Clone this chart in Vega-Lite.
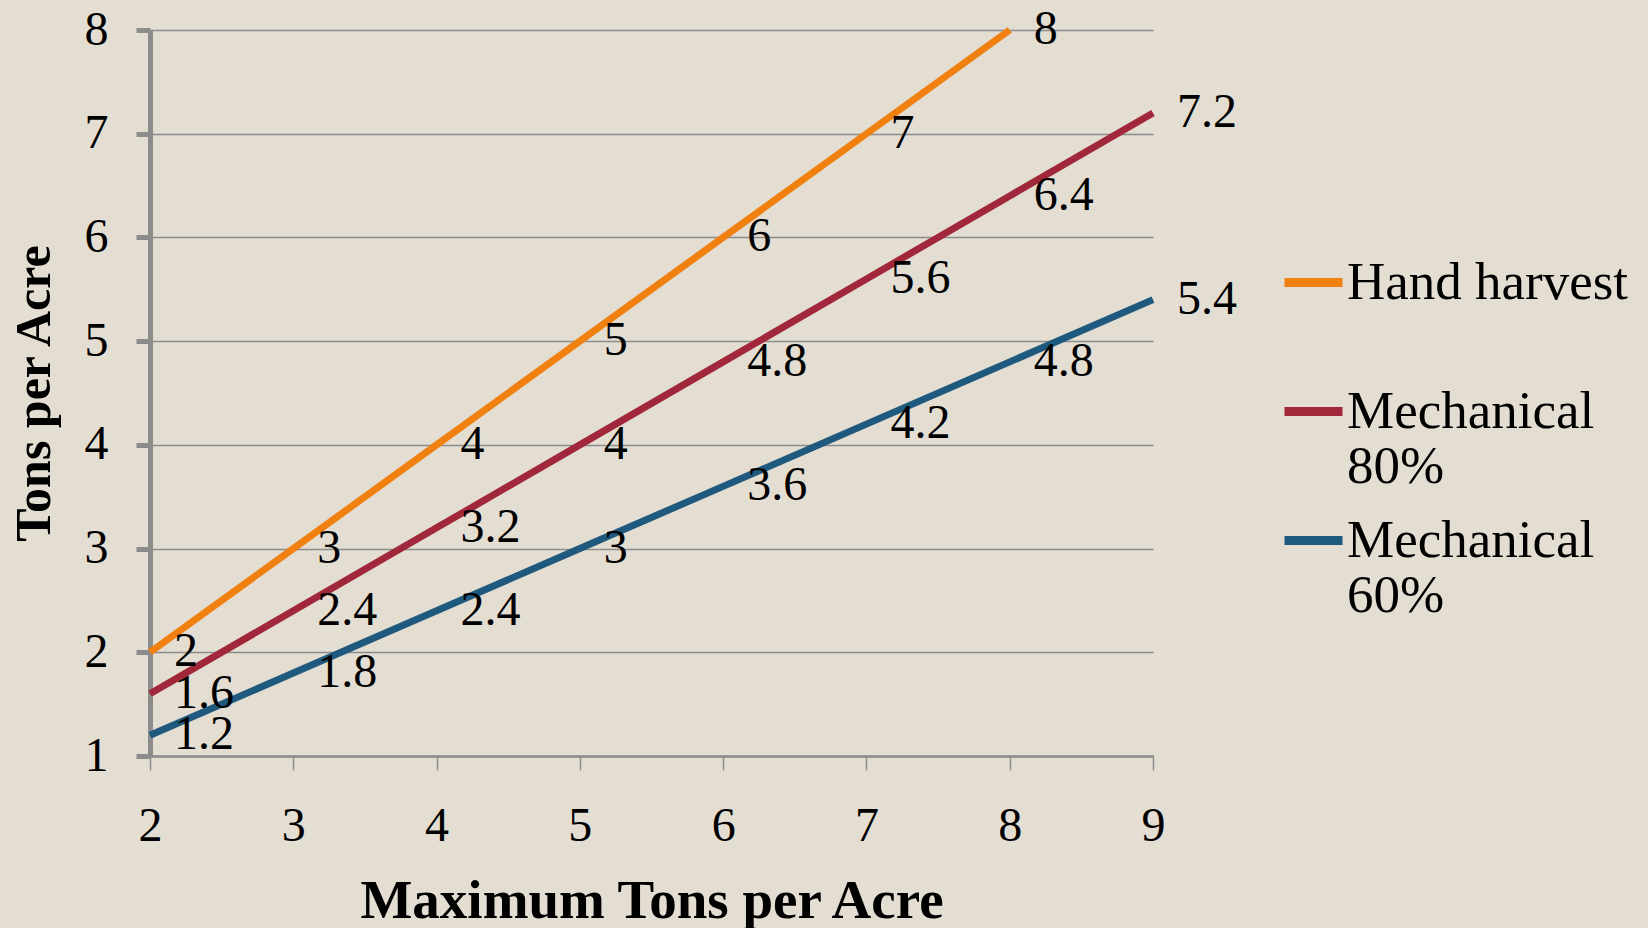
{
  "$schema": "https://vega.github.io/schema/vega-lite/v6.json",
  "autosize": {"type": "none"},
  "width": 1003,
  "height": 726,
  "padding": {"left": 150, "top": 30, "right": 495, "bottom": 172},
  "background": "#E3DDD2",
  "config": {
    "font": "Liberation Serif",
    "view": {"stroke": null},
    "axis": {"labelFont": "Liberation Serif", "titleFont": "Liberation Serif", "labelColor": "#000000", "titleColor": "#000000"}
  },
  "data": {
    "values": [
      {"series": "Hand harvest", "x": 2, "y": 2},
      {"series": "Hand harvest", "x": 3, "y": 3},
      {"series": "Hand harvest", "x": 4, "y": 4},
      {"series": "Hand harvest", "x": 5, "y": 5},
      {"series": "Hand harvest", "x": 6, "y": 6},
      {"series": "Hand harvest", "x": 7, "y": 7},
      {"series": "Hand harvest", "x": 8, "y": 8},
      {"series": "Mechanical 80%", "x": 2, "y": 1.6},
      {"series": "Mechanical 80%", "x": 3, "y": 2.4},
      {"series": "Mechanical 80%", "x": 4, "y": 3.2},
      {"series": "Mechanical 80%", "x": 5, "y": 4},
      {"series": "Mechanical 80%", "x": 6, "y": 4.8},
      {"series": "Mechanical 80%", "x": 7, "y": 5.6},
      {"series": "Mechanical 80%", "x": 8, "y": 6.4},
      {"series": "Mechanical 80%", "x": 9, "y": 7.2},
      {"series": "Mechanical 60%", "x": 2, "y": 1.2},
      {"series": "Mechanical 60%", "x": 3, "y": 1.8},
      {"series": "Mechanical 60%", "x": 4, "y": 2.4},
      {"series": "Mechanical 60%", "x": 5, "y": 3},
      {"series": "Mechanical 60%", "x": 6, "y": 3.6},
      {"series": "Mechanical 60%", "x": 7, "y": 4.2},
      {"series": "Mechanical 60%", "x": 8, "y": 4.8},
      {"series": "Mechanical 60%", "x": 9, "y": 5.4}
    ]
  },
  "encoding": {
    "x": {
      "field": "x", "type": "quantitative",
      "scale": {"domain": [2, 9], "nice": false, "zero": false},
      "axis": {
        "title": "Maximum Tons per Acre",
        "titleFontSize": 55, "titleFontWeight": "bold", "titlePadding": 24,
        "values": [2, 3, 4, 5, 6, 7, 8, 9],
        "labelFontSize": 48, "labelPadding": 32, "labelFlush": false,
        "tickSize": 14, "tickWidth": 1.5, "tickColor": "#8C8C8C",
        "domainColor": "#8C8C8C", "domainWidth": 2.5,
        "grid": false
      }
    },
    "y": {
      "field": "y", "type": "quantitative",
      "scale": {"domain": [1, 8], "nice": false, "zero": false},
      "axis": {
        "title": "Tons per Acre",
        "titleFontSize": 50, "titleFontWeight": "bold", "titlePadding": 25,
        "values": [1, 2, 3, 4, 5, 6, 7, 8],
        "labelFontSize": 48, "labelPadding": 28, "labelFlush": false,
        "tickSize": 14, "tickWidth": 5, "tickColor": "#8C8C8C",
        "domainColor": "#8C8C8C", "domainWidth": 5,
        "grid": true, "gridColor": "#8C8C8C", "gridWidth": 1.5
      }
    }
  },
  "layer": [
    {
      "mark": {"type": "line", "strokeWidth": 7, "clip": false},
      "encoding": {
        "color": {
          "field": "series", "type": "nominal",
          "scale": {"domain": ["Hand harvest", "Mechanical 80%", "Mechanical 60%"], "range": ["#F08010", "#A0283A", "#1F5A7E"]},
          "legend": {
            "title": null,
            "orient": "none",
            "legendX": 1130,
            "legendY": 219,
            "padding": 0,
            "labelFontSize": 53,
            "labelFont": "Liberation Serif",
            "labelColor": "#000000",
            "labelLimit": 400,
            "labelLineHeight": 55,
            "labelExpr": "datum.label == 'Hand harvest' ? ['Hand harvest', ''] : split(datum.label, ' ')",
            "labelOffset": 0,
            "symbolType": "stroke",
            "symbolSize": 3364,
            "symbolStrokeWidth": 9,
            "rowPadding": 13
          }
        }
      }
    },
    {
      "mark": {"type": "text", "align": "left", "baseline": "middle", "dx": 24, "fontSize": 48, "font": "Liberation Serif", "color": "#000000"},
      "encoding": {
        "text": {"field": "y", "type": "quantitative"}
      }
    }
  ]
}
